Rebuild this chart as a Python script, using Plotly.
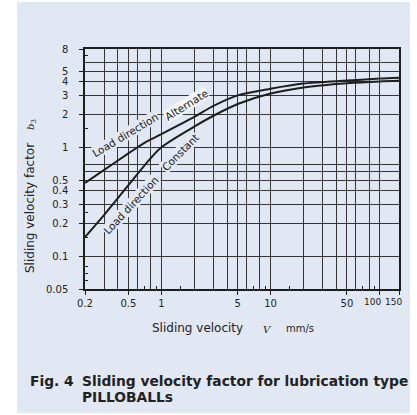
import plotly.graph_objects as go
import math

# ---------------- data ----------------
velocity = [0.2, 0.3, 0.5, 0.7, 1, 2, 3, 5, 10, 20, 50, 100, 150]
factor_alternate = [0.47, 0.62, 0.88, 1.1, 1.32, 1.9, 2.4, 3.0, 3.45, 3.85, 4.1, 4.28, 4.36]
factor_constant = [0.15, 0.24, 0.45, 0.68, 1.0, 1.55, 1.95, 2.5, 3.12, 3.55, 3.88, 4.03, 4.08]

x_tick_vals = [0.2, 0.5, 1, 5, 10, 50, 100, 150]
x_tick_text = ["0.2", "0.5", "1", "5", "10", "50", "", ""]
x_end_labels = [("100", 100, -7), ("150", 150, -6)]
x_grid_vals = [0.3, 0.4, 0.6, 0.8, 2, 3, 4, 6, 8, 20, 30, 40, 60, 80]
x_small_ticks = [0.7, 0.9, 1.5, 7, 9, 15, 70, 90]

y_tick_vals = [0.05, 0.1, 0.2, 0.3, 0.4, 0.5, 1, 2, 3, 4, 5, 8]
y_tick_text = ["0.05", "0.1", "0.2", "0.3", "0.4", "0.5", "1", "2", "3", "4", "5", "8"]
y_grid_vals = [0.6, 0.7, 6]
y_small_ticks = [7, 1.5, 0.25, 0.15, 0.08, 0.07, 0.06]

x_range = [math.log10(0.2), math.log10(150)]
y_range = [math.log10(0.05), math.log10(8)]

PANEL = "#e2e8f3"
INK = "#1e1e1e"
GRID = "#353535"
FONT = "DejaVu Sans, Verdana, sans-serif"
SERIF = "DejaVu Serif"

fig = go.Figure()
for series in (factor_alternate, factor_constant):
    fig.add_trace(go.Scatter(x=velocity, y=series, mode="lines",
                             line=dict(color=INK, width=2, shape="spline", smoothing=0.8),
                             hoverinfo="skip", showlegend=False))
# invisible trace for overlay axes
fig.add_trace(go.Scatter(x=[0.2], y=[0.05], xaxis="x2", yaxis="y2", mode="markers",
                         marker=dict(opacity=0), hoverinfo="skip", showlegend=False))

axis_common = dict(type="log", showline=True, linecolor=INK, linewidth=1.5, mirror=True,
                   showgrid=True, gridcolor=GRID, gridwidth=1.3, zeroline=False,
                   ticks="outside", ticklen=4, tickwidth=1.2, tickcolor=INK,
                   tickfont=dict(family=FONT, size=10, color="#222"))

fig.update_layout(
    width=417, height=415,
    margin=dict(l=85, r=18, t=49, b=126),
    paper_bgcolor="white", plot_bgcolor=PANEL,
    showlegend=False,
    xaxis=dict(axis_common, range=x_range, tickmode="array", tickvals=x_tick_vals,
               ticktext=x_tick_text, tickangle=0,
               minor=dict(tickmode="array", tickvals=x_grid_vals, ticks="",
                          showgrid=True, gridcolor=GRID, gridwidth=1.3)),
    yaxis=dict(axis_common, range=y_range, tickmode="array", tickvals=y_tick_vals,
               ticktext=y_tick_text, ticklabelstandoff=9,
               minor=dict(tickmode="array", tickvals=y_grid_vals, ticks="",
                          showgrid=True, gridcolor=GRID, gridwidth=1.3)),
    xaxis2=dict(type="log", range=x_range, overlaying="x", anchor="y", side="bottom",
                tickmode="array", tickvals=x_small_ticks, ticks="inside", ticklen=3,
                tickcolor=INK, tickwidth=1, showticklabels=False, showgrid=False,
                showline=False, zeroline=False),
    yaxis2=dict(type="log", range=y_range, overlaying="y", anchor="x", side="left",
                tickmode="array", tickvals=y_small_ticks, ticks="inside", ticklen=3,
                tickcolor=INK, tickwidth=1, showticklabels=False, showgrid=False,
                showline=False, zeroline=False),
)

# background panel
fig.add_shape(type="rect", xref="paper", yref="paper",
              x0=-0.2166, x1=1.035, y0=-0.517, y1=1.196,
              fillcolor=PANEL, line=dict(width=0), layer="below")


def px_x(p):
    return (p - 85) / 314.0


def px_y(p):
    return (289 - p) / 240.0


def curve_at(xs, ys, v):
    lv = math.log10(v)
    lx = [math.log10(a) for a in xs]
    ly = [math.log10(b) for b in ys]
    for i in range(len(lx) - 1):
        if lx[i] <= lv <= lx[i + 1]:
            t = (lv - lx[i]) / (lx[i + 1] - lx[i])
            return ly[i] + t * (ly[i + 1] - ly[i])
    return ly[-1]


# tick labels for the two crowded right-hand ticks
for txt, v, shift in x_end_labels:
    fig.add_annotation(x=math.log10(v), y=px_y(301.5), xref="x", yref="paper", text=txt,
                       showarrow=False, xshift=shift, xanchor="center", yanchor="middle",
                       font=dict(family=FONT, size=9, color="#222"))

# curve labels: (text, series, velocity position, angle, offset px (+ above / - below), bg)
curve_labels = [
    ("Load direction", factor_alternate, 0.56, -31, 17, PANEL),
    ("Alternate", factor_alternate, 1.98, -32, 15, "#f3f5f9"),
    ("Load direction", factor_constant, 0.42, -47, -15, PANEL),
    ("Constant", factor_constant, 1.2, -45, -15, PANEL),
]
for txt, series, v, ang, off, bg in curve_labels:
    th = math.radians(-ang)
    fig.add_annotation(x=math.log10(v), y=curve_at(velocity, series, v), xref="x", yref="y",
                       text=txt, showarrow=False, textangle=ang, bgcolor=bg, borderpad=0,
                       xanchor="center", yanchor="middle",
                       xshift=-off * math.sin(th), yshift=off * math.cos(th),
                       font=dict(family=FONT, size=10.5, color="#222"))

# x-axis title pieces
fig.add_annotation(xref="paper", yref="paper", x=px_x(197), y=px_y(328),
                   text="Sliding velocity", showarrow=False, xanchor="center", yanchor="middle",
                   font=dict(family=FONT, size=12, color="#222"))
fig.add_annotation(xref="paper", yref="paper", x=px_x(267), y=px_y(329),
                   text="<i>V</i>", showarrow=False, xanchor="center", yanchor="middle",
                   font=dict(family=SERIF, size=10, color="#222"))
fig.add_annotation(xref="paper", yref="paper", x=px_x(284), y=px_y(328),
                   text="mm/s", showarrow=False, xanchor="left", yanchor="middle",
                   font=dict(family=FONT, size=10, color="#222"))

# y-axis title pieces
fig.add_annotation(xref="paper", yref="paper", x=px_x(30), y=px_y(208),
                   text="Sliding velocity factor", showarrow=False, textangle=-90,
                   xanchor="center", yanchor="middle",
                   font=dict(family=FONT, size=12, color="#222"))
fig.add_annotation(xref="paper", yref="paper", x=px_x(31), y=px_y(125),
                   text="<i>b</i><sub>3</sub>", showarrow=False, textangle=-90,
                   xanchor="center", yanchor="middle",
                   font=dict(family=SERIF, size=10, color="#222"))

# caption
caption_font = dict(family=FONT, size=13.8, color="#222")
fig.add_annotation(xref="paper", yref="paper", x=px_x(28), y=px_y(381),
                   text="<b>Fig. 4</b>", showarrow=False, xanchor="left", yanchor="middle",
                   font=caption_font)
fig.add_annotation(xref="paper", yref="paper", x=px_x(80), y=px_y(381),
                   text="<b>Sliding velocity factor for lubrication type</b>",
                   showarrow=False, xanchor="left", yanchor="middle", font=caption_font)
fig.add_annotation(xref="paper", yref="paper", x=px_x(80), y=px_y(397),
                   text="<b>PILLOBALLs</b>",
                   showarrow=False, xanchor="left", yanchor="middle", font=caption_font)

fig.write_html("out.html", config={"displayModeBar": False},
               post_script="document.body.style.margin='0';")
